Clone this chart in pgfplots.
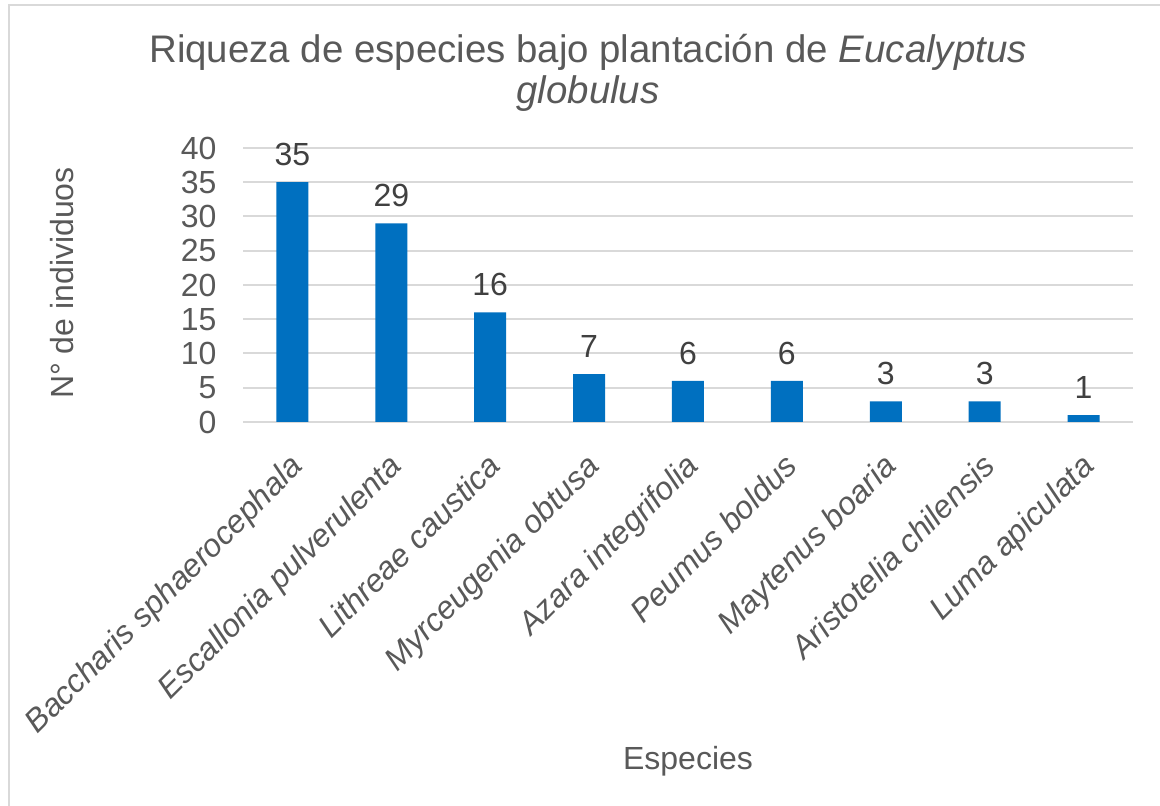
\documentclass[border=0pt]{standalone}
\usepackage{fontspec}
\setmainfont{Liberation Sans}
\usepackage{pgfplots}
\pgfplotsset{compat=1.18}
\definecolor{barblue}{HTML}{0070C0}
\definecolor{txtgray}{HTML}{595959}
\definecolor{lblgray}{HTML}{404040}
\definecolor{gridgray}{HTML}{D9D9D9}
\begin{document}
\begin{tikzpicture}
\useasboundingbox (0,0) rectangle (580pt,403pt);
\fill[white] (0,0) rectangle (580pt,403pt);
\draw[gridgray, line width=1pt] (4.25pt,0) -- (4.25pt,400.25pt) -- (580pt,400.25pt);
\begin{axis}[
    at={(121.5pt,192pt)}, anchor=south west,
    width=445pt, height=137pt, scale only axis,
    xmin=-0.5, xmax=8.5, ymin=0, ymax=40,
    ytick={0,5,...,40},
    xtick={0,...,8},
    xticklabels={Baccharis sphaerocephala, Escallonia pulverulenta, Lithreae caustica, Myrceugenia obtusa, Azara integrifolia, Peumus boldus, Maytenus boaria, Aristotelia chilensis, Luma apiculata},
    /pgf/number format/assume math mode=true,
    axis line style={draw=none},
    tick style={draw=none},
    ymajorgrids,
    major grid style={gridgray, line width=1pt},
    tick label style={font=\fontsize{16pt}{19pt}\selectfont, text=txtgray},
    yticklabel style={xshift=-9.7pt},
    xticklabel style={font=\fontsize{16pt}{19pt}\selectfont\itshape, rotate=45, anchor=north east, xshift=-5.5pt, yshift=-2.5pt},
    ybar, bar width=16pt,
    nodes near coords,
    nodes near coords style={font=\fontsize{16pt}{19pt}\selectfont, text=lblgray, yshift=4.7pt},
    clip=false,
]
\addplot[fill=barblue, draw=none] coordinates {(0,35) (1,29) (2,16) (3,7) (4,6) (5,6) (6,3) (7,3) (8,1)};
\end{axis}
\node[anchor=base, text=txtgray, font=\fontsize{19.2pt}{23pt}\selectfont] at (294pt,371.5pt) {Riqueza de especies bajo plantación de \textit{Eucalyptus}};
\node[anchor=base, text=txtgray, font=\fontsize{19.2pt}{23pt}\selectfont] at (294pt,351pt) {\textit{globulus}};
\node[rotate=90, text=txtgray, font=\fontsize{16pt}{19pt}\selectfont] at (31pt,261.5pt) {N° de individuos};
\node[anchor=base, text=txtgray, font=\fontsize{16pt}{19pt}\selectfont] at (344pt,18pt) {Especies};
\end{tikzpicture}
\end{document}
